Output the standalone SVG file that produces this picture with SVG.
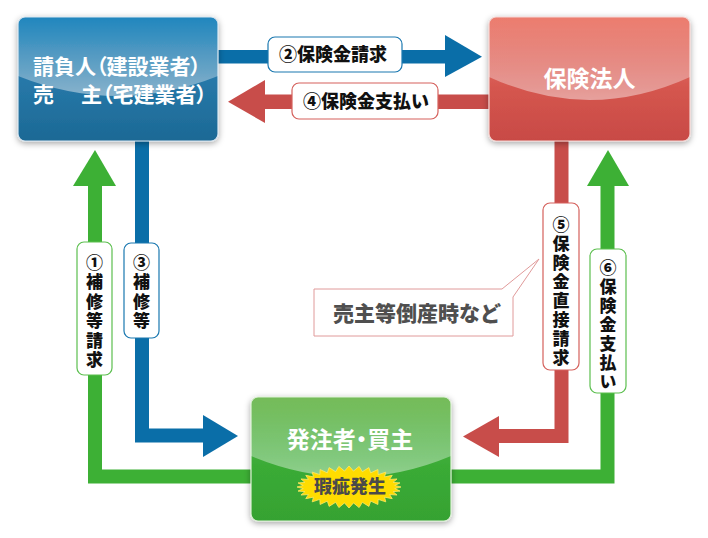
<svg xmlns="http://www.w3.org/2000/svg" width="708" height="538" viewBox="0 0 708 538">
<defs>
<style>
.jp{font-family:"Noto Sans CJK JP","Noto Sans",sans-serif;}
.node-t{fill:#fff;font-weight:700;}
.lbl{fill:#111;font-weight:900;font-size:18px;text-anchor:middle;}
.vl{fill:#111;font-weight:900;font-size:17px;writing-mode:vertical-rl;text-orientation:upright;}
.blue{fill:#0a6ea8;}
.red{fill:#c84d4a;}
.green{fill:#3db035;}
.sb{fill:none;stroke-width:14;stroke-linejoin:miter;}
</style>
<filter id="sh" x="-10%" y="-10%" width="120%" height="125%">
<feDropShadow dx="0" dy="2" stdDeviation="3" flood-color="#000" flood-opacity="0.35"/>
</filter>
<linearGradient id="gBlue" x1="0" y1="0" x2="0" y2="1">
<stop offset="0" stop-color="#1b84bd"/>
<stop offset="0.55" stop-color="#2677a7"/>
<stop offset="1" stop-color="#1c6995"/>
</linearGradient>
<linearGradient id="gRed" x1="0" y1="0" x2="0" y2="1">
<stop offset="0" stop-color="#ec7a6c"/>
<stop offset="0.6" stop-color="#d4554e"/>
<stop offset="1" stop-color="#c84a45"/>
</linearGradient>
<linearGradient id="gGreen" x1="0" y1="0" x2="0" y2="1">
<stop offset="0" stop-color="#72ba55"/>
<stop offset="0.55" stop-color="#3aab36"/>
<stop offset="1" stop-color="#36a232"/>
</linearGradient>
<linearGradient id="gloss" x1="0" y1="0" x2="0" y2="1">
<stop offset="0" stop-color="#fff" stop-opacity="0.02"/>
<stop offset="1" stop-color="#fff" stop-opacity="0.45"/>
</linearGradient>
<clipPath id="cBlue"><rect x="18" y="17" width="200" height="124" rx="7"/></clipPath>
<clipPath id="cRed"><rect x="489" y="17" width="201" height="124" rx="7"/></clipPath>
<clipPath id="cGreen"><rect x="251" y="397" width="200" height="124" rx="7"/></clipPath>
</defs>

<rect width="708" height="538" fill="#fff"/>

<g id="connectors">
<g id="c2">
<rect class="blue" x="218" y="50" width="228" height="13.5"/>
<polygon class="blue" points="445,35 482,56.7 445,77"/>
<rect x="268" y="37" width="134" height="35" rx="7" fill="#fff" stroke="#1a78b0" stroke-width="1.2"/>
<text class="jp lbl" x="333" y="61">②保険金請求</text>
</g>
<g id="c4">
<rect class="red" x="264" y="94.5" width="225" height="14.5"/>
<polygon class="red" points="265,80 228,101.7 265,123"/>
<rect x="292" y="83" width="146" height="36" rx="7" fill="#fff" stroke="#d5615c" stroke-width="1.2"/>
<text class="jp lbl" x="366" y="108">④保険金支払い</text>
</g>
<g id="c1">
<path class="sb" stroke="#3db035" d="M95,185 V476.5 H252"/>
<polygon class="green" points="73,186 95,150 116,186"/>
<rect x="77" y="242" width="35" height="133" rx="7" fill="#fff" stroke="#5cbf4f" stroke-width="1.2"/>
<text class="jp vl" x="94.5" y="254" letter-spacing="2.5">①補修等請求</text>
</g>
<g id="c3">
<path class="sb" stroke="#0a6ea8" d="M142,141 V435.5 H204"/>
<polygon class="blue" points="203,415 238,436 203,457"/>
<rect x="124" y="243" width="35" height="95" rx="7" fill="#fff" stroke="#1a78b0" stroke-width="1.2"/>
<text class="jp vl" x="141.5" y="254" letter-spacing="2.5">③補修等</text>
</g>
<g id="c5">
<path class="sb" stroke="#c84d4a" d="M561.5,141 V436 H498"/>
<polygon class="red" points="499,416 463,436.5 499,457"/>
<rect x="543" y="203" width="36" height="167" rx="7" fill="#fff" stroke="#d5615c" stroke-width="1.2"/>
<text class="jp vl" x="561" y="216" letter-spacing="2">⑤保険金直接請求</text>
</g>
<g id="c6">
<path class="sb" stroke="#3db035" d="M607.5,185 V476.5 H450"/>
<polygon class="green" points="587,186 608,150 629,186"/>
<rect x="590" y="249" width="36" height="144" rx="7" fill="#fff" stroke="#5cbf4f" stroke-width="1.2"/>
<text class="jp vl" x="608" y="259" letter-spacing="2">⑥保険金支払い</text>
</g>
<g id="callout">
<path d="M314,289 H502 L539,259 L513,297 V336 H314 Z" fill="#fff" stroke="#e09a9a" stroke-width="1"/>
<text class="jp" x="417" y="321" font-size="21" font-weight="900" fill="#4f4f4f" text-anchor="middle">売主等倒産時など</text>
</g>
</g>

<g id="node-contractor">
<rect x="18" y="17" width="200" height="124" rx="7" fill="url(#gBlue)" stroke="#d8e4ee" stroke-width="1.2" filter="url(#sh)"/>
<path d="M18,17 H218 V76 Q118,116 18,76 Z" fill="url(#gloss)" clip-path="url(#cBlue)"/>
<text class="jp node-t" x="33" y="74" font-size="21" style="font-feature-settings:'palt'">請負人（建設業者）</text>
<text class="jp node-t" x="33" y="102" font-size="21">売</text>
<text class="jp node-t" x="81" y="102" font-size="21" style="font-feature-settings:'palt'">主（宅建業者）</text>
</g>

<g id="node-insurer">
<rect x="489" y="17" width="201" height="124" rx="7" fill="url(#gRed)" stroke="#f3d6d3" stroke-width="1.2" filter="url(#sh)"/>
<path d="M489,17 H690 V77 Q589.5,123 489,77 Z" fill="url(#gloss)" clip-path="url(#cRed)"/>
<text class="jp node-t" x="589.5" y="87" font-size="23" text-anchor="middle">保険法人</text>
</g>

<g id="node-owner">
<rect x="251" y="397" width="200" height="124" rx="7" fill="url(#gGreen)" stroke="#dcefd5" stroke-width="1.2" filter="url(#sh)"/>
<path d="M251,397 H451 V456 Q351,498 251,456 Z" fill="url(#gloss)" clip-path="url(#cGreen)"/>
<text class="jp node-t" x="350" y="448" font-size="23" text-anchor="middle" style="font-feature-settings:'palt'">発注者・買主</text>
<polygon fill="#ffdc00" stroke="#ffe866" stroke-width="0.8" points="401,487 394.78,485.43 400,482.9 393.02,482.36 397.04,478.96 389.57,479.46 392.24,475.33 384.56,476.85 385.77,472.15 378.18,474.63 377.89,469.54 370.68,472.89 368.9,467.6 362.35,471.69 359.14,466.4 353.51,471.08 349,466 344.49,471.08 338.86,466.4 335.65,471.69 329.1,467.6 327.32,472.89 320.11,469.54 319.82,474.63 312.23,472.15 313.44,476.85 305.76,475.33 308.43,479.46 300.96,478.96 304.98,482.36 298,482.9 303.22,485.43 297,487 303.22,488.57 298,491.1 304.98,491.64 300.96,495.04 308.43,494.54 305.76,498.67 313.44,497.15 312.23,501.85 319.82,499.37 320.11,504.46 327.32,501.11 329.1,506.4 335.65,502.31 338.86,507.6 344.49,502.92 349,508 353.51,502.92 359.14,507.6 362.35,502.31 368.9,506.4 370.68,501.11 377.89,504.46 378.18,499.37 385.77,501.85 384.56,497.15 392.24,498.67 389.57,494.54 397.04,495.04 393.02,491.64 400,491.1 394.78,488.57"/>
<text class="jp" x="350" y="493" font-size="18" font-weight="900" fill="#4a4a4a" text-anchor="middle">瑕疵発生</text>
</g>
</svg>
